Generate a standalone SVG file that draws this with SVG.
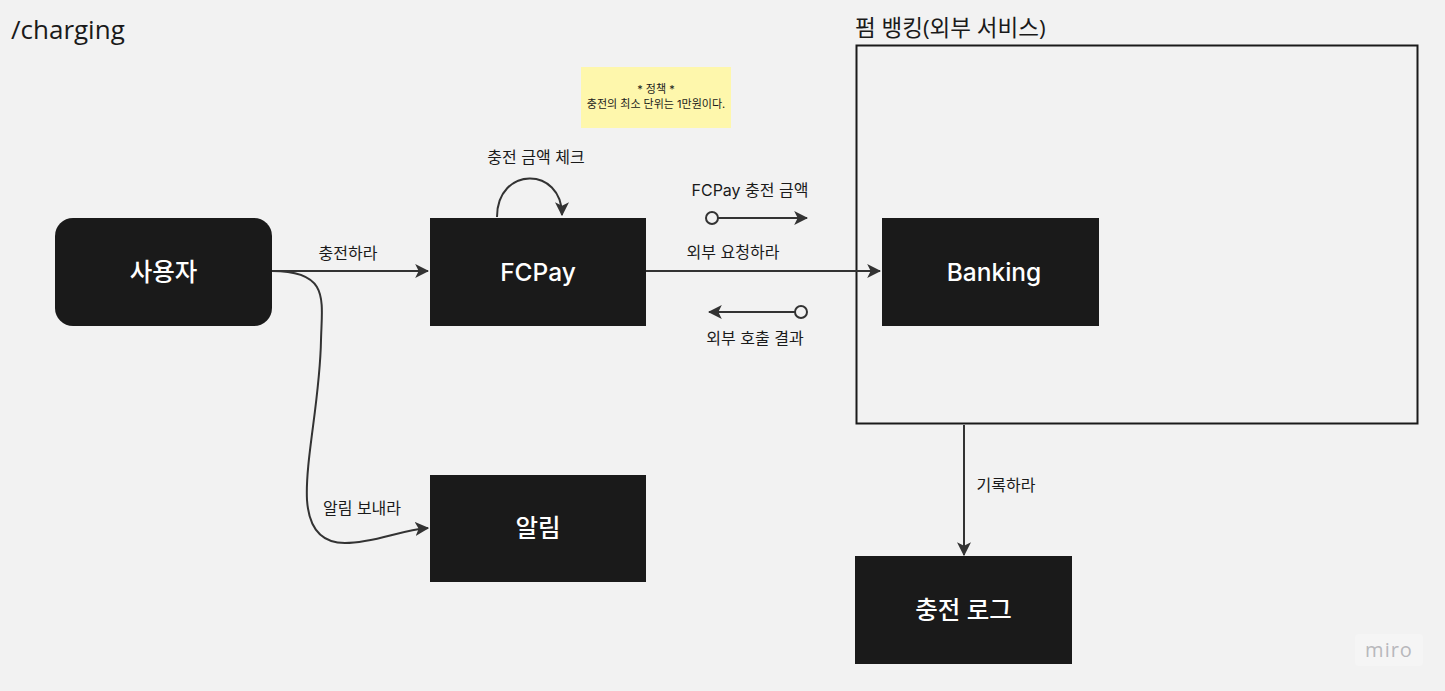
<svg xmlns="http://www.w3.org/2000/svg" width="1445" height="691" viewBox="0 0 1445 691">
<style>
.bg{fill:#f2f2f2}
.node{fill:#1a1a1a}
.nt{fill:#ffffff;font-family:"Inter","Noto Sans CJK KR",sans-serif;font-size:24.5px;font-weight:500;text-anchor:middle;dominant-baseline:central}
.lbl{fill:#1a1a1a;font-family:"Inter","Noto Sans CJK KR",sans-serif;font-size:16px;text-anchor:middle;dominant-baseline:central}
.conn{fill:none;stroke:#333333;stroke-width:2}
.title{fill:#1a1a1a;font-family:"Open Sans","Noto Sans CJK KR",sans-serif;font-size:26px}
</style>
<defs>
<marker id="arr" viewBox="0 0 12 12" refX="11" refY="6" markerWidth="14" markerHeight="14" markerUnits="userSpaceOnUse" orient="auto">
<path d="M0,0 L12,6 L0,12 L3,6 z" fill="#333333"/>
</marker>
</defs>
<rect class="bg" x="0" y="0" width="1445" height="691"/>
<text class="title" x="11" y="39">/charging</text>

<g id="frame-banking">
<text class="title" x="855" y="36" style="font-size:22.5px">펌 뱅킹(외부 서비스)</text>
<rect x="856.5" y="45.5" width="561" height="378" fill="none" stroke="#1a1a1a" stroke-width="2"/>
</g>

<g id="note-policy">
<rect x="581" y="67" width="150" height="61" fill="#fef7ac"/>
<text class="lbl" x="656" y="89" style="font-size:11px">* 정책 *</text>
<text class="lbl" x="656" y="104" style="font-size:11px">충전의 최소 단위는 1만원이다.</text>
</g>

<g id="connectors">
<path class="conn" d="M272,271 L428,271" marker-end="url(#arr)"/>
<text class="lbl" x="348" y="253">충전하라</text>
<path class="conn" d="M272,271 C330,271 322,300 321,340 C320,400 305,460 307,500 C309,530 322,543 345,543 C375,543 400,530 428,528" marker-end="url(#arr)"/>
<text class="lbl" x="362" y="508">알림 보내라</text>
<path class="conn" d="M497,217 C497,166 562,166 562,215" marker-end="url(#arr)"/>
<text class="lbl" x="536" y="157">충전 금액 체크</text>
<path class="conn" d="M646,271 L880,271" marker-end="url(#arr)"/>
<text class="lbl" x="733" y="252">외부 요청하라</text>
<text class="lbl" x="750" y="190">FCPay 충전 금액</text>
<circle cx="712" cy="218" r="6" fill="#f2f2f2" stroke="#333333" stroke-width="2"/>
<path class="conn" d="M718,218 L807,218" marker-end="url(#arr)"/>
<circle cx="801" cy="312" r="6" fill="#f2f2f2" stroke="#333333" stroke-width="2"/>
<path class="conn" d="M795,312 L709,312" marker-end="url(#arr)"/>
<text class="lbl" x="755" y="338">외부 호출 결과</text>
<path class="conn" d="M964,425 L964,555" marker-end="url(#arr)"/>
<text class="lbl" x="1006" y="485">기록하라</text>
</g>

<g id="node-user">
<rect class="node" x="55" y="218" width="217" height="108" rx="18"/>
<text class="nt" x="163.5" y="272">사용자</text>
</g>
<g id="node-fcpay">
<rect class="node" x="430" y="218" width="216" height="108"/>
<text class="nt" x="538" y="272">FCPay</text>
</g>
<g id="node-banking">
<rect class="node" x="882" y="218" width="217" height="108"/>
<text class="nt" x="994" y="272">Banking</text>
</g>
<g id="node-alarm">
<rect class="node" x="430" y="475" width="216" height="107"/>
<text class="nt" x="538" y="528">알림</text>
</g>
<g id="node-log">
<rect class="node" x="855" y="556" width="217" height="108"/>
<text class="nt" x="963.5" y="610">충전 로그</text>
</g>

<g id="watermark">
<rect x="1355" y="634" width="68" height="32" rx="4" fill="#f5f5f5"/>
<text x="1389" y="657" text-anchor="middle" fill="#b8b8bc" style="font-family:'Open Sans','Noto Sans',sans-serif;font-size:20px;letter-spacing:1px">miro</text>
</g>
</svg>
